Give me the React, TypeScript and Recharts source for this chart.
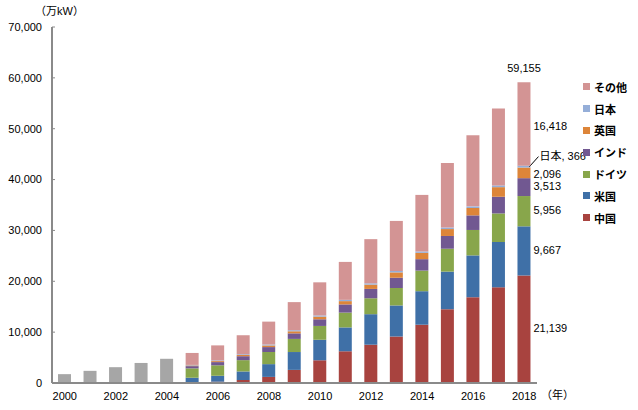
import React from 'react';
import { BarChart, Bar, XAxis, YAxis, Legend, Rectangle } from 'recharts';

const years = ['2000','2001','2002','2003','2004','2005','2006','2007','2008','2009','2010','2011','2012','2013','2014','2015','2016','2017','2018'];
const N = null;
const early = [1740, 2390, 3110, 3943, 4762, N, N, N, N, N, N, N, N, N, N, N, N, N, N];
const china = [N, N, N, N, N, 126, 260, 591, 1200, 2580, 4470, 6240, 7530, 9140, 11460, 14510, 16870, 18820, 21139];
const usa = [N, N, N, N, N, 910, 1160, 1680, 2510, 3510, 4030, 4690, 6000, 6110, 6590, 7390, 8220, 8910, 9667];
const germany = [N, N, N, N, N, 1840, 2060, 2220, 2390, 2580, 2720, 2910, 3130, 3430, 4050, 4500, 5000, 5610, 5956];
const india = [N, N, N, N, N, 440, 630, 780, 960, 1090, 1310, 1610, 1840, 2020, 2250, 2510, 2870, 3280, 3513];
const uk = [N, N, N, N, N, 135, 196, 240, 320, 410, 520, 650, 840, 1050, 1240, 1360, 1450, 1890, 2096];
const japan = [N, N, N, N, N, 106, 140, 150, 190, 210, 230, 250, 260, 270, 280, 300, 320, 340, 366];
const other = [N, N, N, N, N, 2352, 2950, 3731, 4500, 5525, 6516, 7461, 8685, 9850, 11116, 12698, 13998, 15108, 16418];
const totals = [1740, 2390, 3110, 3943, 4762, 5909, 7396, 9392, 12070, 15905, 19796, 23811, 28285, 31870, 36986, 43268, 48728, 53958, 59155];
const yTicks = [0, 10000, 20000, 30000, 40000, 50000, 60000, 70000];

const data = years.map((y, i) => ({
  year: y,
  early: early[i],
  china: china[i],
  usa: usa[i],
  germany: germany[i],
  india: india[i],
  uk: uk[i],
  japan: japan[i],
  other: other[i],
  total: totals[i],
}));

const series = [
  { key: 'china', name: '中国', color: '#A8433F', dy: 0 },
  { key: 'usa', name: '米国', color: '#3F70A7', dy: 0 },
  { key: 'germany', name: 'ドイツ', color: '#88A64B', dy: 0 },
  { key: 'india', name: 'インド', color: '#715891', dy: 0 },
  { key: 'uk', name: '英国', color: '#DD8539', dy: 2 },
  { key: 'japan', name: '日本', color: '#95AED8', dy: 0 },
  { key: 'other', name: 'その他', color: '#D39494', dy: 3 },
];

const FONT = "'Liberation Sans', 'Noto Sans CJK JP', sans-serif";
const LAST = years.length - 1;
const fmt = (v: number) => v.toLocaleString('en-US');

const makeShape = (key: string, dy: number) => (props: any) => {
  const { x, y, width, height, index, payload } = props;
  const value = payload ? payload[key] : null;
  const X = Number(x), Y = Number(y), W = Number(width), H = Number(height);
  const rect = <Rectangle {...props} />;
  if (index !== LAST || value == null) return rect;
  const rx = X + W;
  const my = Y + H / 2;
  if (key === 'japan') {
    return (
      <g>
        {rect}
        <line x1={rx - 1} y1={my} x2={rx + 8} y2={my - 10} stroke="#000" strokeWidth={1} />
        <text x={rx + 9} y={my - 9} fontSize={11} fill="#000" fontFamily={FONT} dominantBaseline="middle">
          {'日本, ' + value}
        </text>
      </g>
    );
  }
  return (
    <g>
      {rect}
      <text x={rx + 3} y={my + dy} fontSize={11} fill="#000" fontFamily={FONT} dominantBaseline="middle">
        {fmt(value)}
      </text>
      {key === 'other' ? (
        <text x={X + W / 2} y={Y - 13} fontSize={11} fill="#000" fontFamily={FONT} textAnchor="middle" dominantBaseline="middle">
          {fmt(payload.total)}
        </text>
      ) : null}
    </g>
  );
};

const LegendContent = () => (
  <div style={{ fontFamily: FONT, fontSize: 11, color: '#000', width: 60 }}>
    {[...series].reverse().map((s) => (
      <div key={s.key} style={{ display: 'flex', alignItems: 'center', height: 21.8, whiteSpace: 'nowrap' }}>
        <span style={{ display: 'inline-block', width: 7, height: 7, background: s.color, marginRight: 4 }} />
        <span style={{ fontWeight: 'bold' }}>{s.name}</span>
      </div>
    ))}
  </div>
);

export default function App() {
  return (
    <div style={{ position: 'absolute', left: 0, top: 0, width: 638, height: 410, background: '#fff' }}>
      <BarChart width={638} height={410} data={data} margin={{ top: 27, right: 101, left: 0, bottom: 0 }} barSize={13}>
        <XAxis
          dataKey="year"
          height={27}
          interval={1}
          tickLine={false}
          axisLine={{ stroke: '#8a8a8a', strokeWidth: 2 }}
          tick={{ fontSize: 11, fill: '#000', fontFamily: FONT }}
          tickMargin={3}
        />
        <YAxis
          width={52}
          domain={[0, 70000]}
          ticks={yTicks}
          interval={0}
          tickFormatter={(v: number) => fmt(v)}
          axisLine={{ stroke: '#8a8a8a', strokeWidth: 2 }}
          tickLine={{ stroke: '#8a8a8a' }}
          tickSize={-3}
          tickMargin={13}
          tick={{ fontSize: 11, fill: '#000', fontFamily: FONT }}
        />
        <Legend
          layout="horizontal"
          verticalAlign="top"
          align="left"
          content={<LegendContent />}
          wrapperStyle={{ position: 'absolute', left: 583, top: 76, width: 0, height: 0, overflow: 'visible' }}
        />
        <Bar dataKey="early" stackId="a" fill="#A6A6A6" legendType="none" isAnimationActive={false} />
        {series.map((s) => (
          <Bar
            key={s.key}
            dataKey={s.key}
            name={s.name}
            stackId="a"
            fill={s.color}
            isAnimationActive={false}
            shape={makeShape(s.key, s.dy)}
          />
        ))}
        <text x={35} y={15} fontSize={11} fill="#000" fontFamily={FONT}>（万kW）</text>
        <text x={541} y={399} fontSize={11} fill="#000" fontFamily={FONT}>（年）</text>
      </BarChart>
    </div>
  );
}
